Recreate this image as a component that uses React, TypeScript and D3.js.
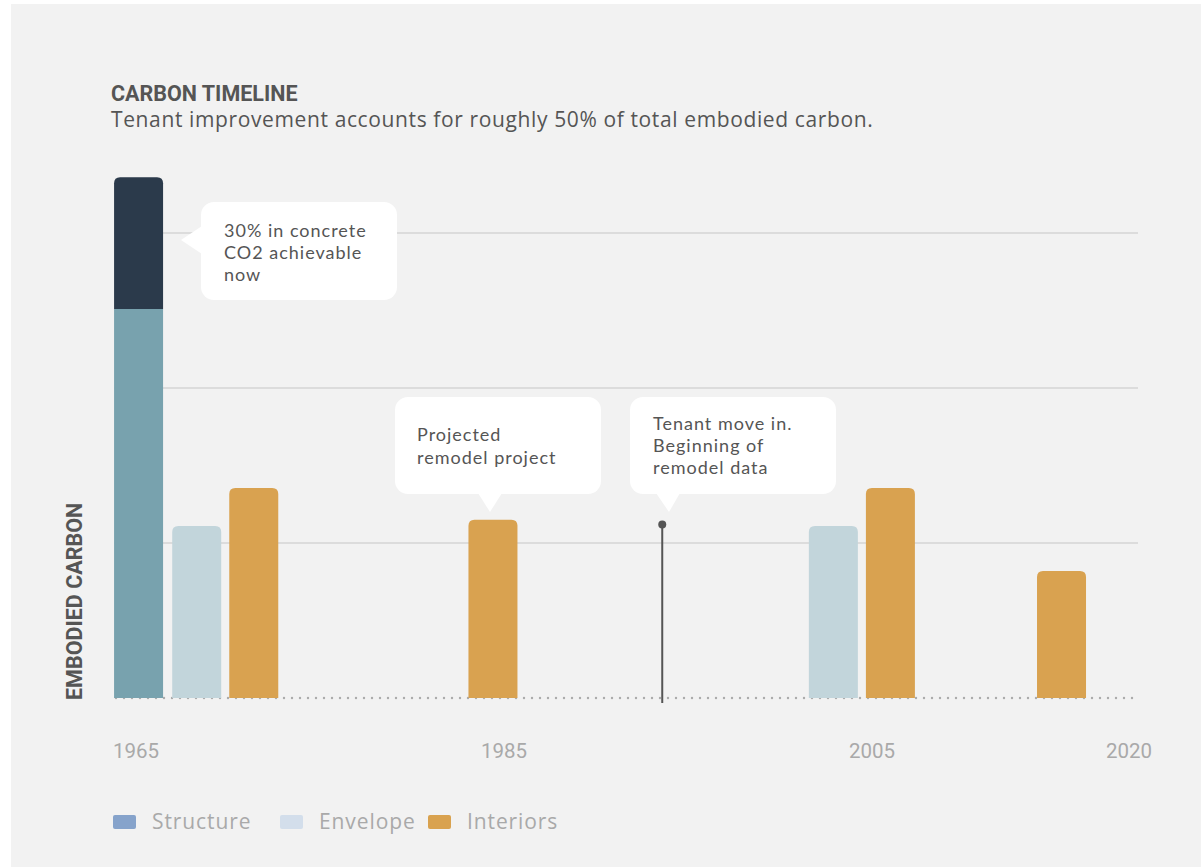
import React from "react";
import * as d3 from "d3";

const tickYears = [1965, 1985, 2005, 2020];
const gridValues = [1, 2, 3];

const legendItems = ["Structure", "Envelope", "Interiors"];
const legendColors = ["#86a3cb", "#d3deeb", "#d9a24f"];

// bars: centre year, series, stacked segments (bottom -> top) in units
const barYears = [1965.14, 1968.3, 1971.4, 1984.4, 2002.9, 2006.0, 2015.3];
const barSeries = ["Structure", "Envelope", "Interiors", "Interiors", "Envelope", "Interiors", "Interiors"];
const barLower = [2.51, 1.11, 1.355, 1.15, 1.11, 1.355, 0.82];
const barUpper = [0.85, 0, 0, 0, 0, 0, 0];

const pinYear = 1993.6;
const pinValue = 1.12;

const W = 1201;
const H = 867;

const x = d3.scaleLinear().domain([1965, 2005]).range([136, 872]);
const y = d3.scaleLinear().domain([0, 1]).range([698, 543]);

const barW = 49;
const seriesFill: Record<string, string> = {
  Structure: "#78a2ae",
  Envelope: "#c2d5db",
  Interiors: "#d9a250",
};
const upperFill = "#2b3a4b";

function topRoundedRect(x0: number, y0: number, w: number, h: number, r: number) {
  const p = d3.path();
  p.moveTo(x0, y0 + h);
  p.lineTo(x0, y0 + r);
  p.quadraticCurveTo(x0, y0, x0 + r, y0);
  p.lineTo(x0 + w - r, y0);
  p.quadraticCurveTo(x0 + w, y0, x0 + w, y0 + r);
  p.lineTo(x0 + w, y0 + h);
  p.closePath();
  return p.toString();
}

const textColor = "#555";
const bodyFont = "'Open Sans', sans-serif";
const calloutFont = "Lato, sans-serif";

function Callout({ bx, by, bw, bh, pointer, lines, tx, ty, lh }: any) {
  let tri = "";
  if (pointer.dir === "left") {
    tri = `M${bx + 1},${pointer.y - 14} L${pointer.tipX},${pointer.y} L${bx + 1},${pointer.y + 14} Z`;
  } else {
    tri = `M${pointer.x - 12},${by + bh - 1} L${pointer.tipX},${pointer.tipY} L${pointer.x + 12},${by + bh - 1} Z`;
  }
  return (
    <g>
      <rect x={bx} y={by} width={bw} height={bh} rx={13} ry={13} fill="#fff" />
      <path d={tri} fill="#fff" />
      {lines.map((l: string, i: number) => (
        <text
          key={i}
          x={tx}
          y={ty + i * lh}
          fontFamily={calloutFont}
          fontSize={18}
          letterSpacing={1}
          fill={textColor}
        >
          {l}
        </text>
      ))}
    </g>
  );
}

export default function App() {
  const plotLeft = 114;
  const plotRight = 1138;
  const base = y(0);
  const dots = d3.range(plotLeft + 2, 1136, 8);

  return (
    <svg
      width={W}
      height={H}
      style={{ position: "absolute", left: 0, top: 0, display: "block" }}
    >
      <rect x={0} y={0} width={W} height={H} fill="#fff" />
      <rect x={11} y={4} width={W - 11} height={H - 4} fill="#f2f2f2" />

      <text x={111} y={101} fontFamily="Roboto, sans-serif" fontWeight={700} fontSize={21.5} fill={textColor}>
        CARBON TIMELINE
      </text>
      <text x={111} y={127} fontFamily={bodyFont} fontSize={21} letterSpacing={0.62} fill={textColor}>
        Tenant improvement accounts for roughly 50% of total embodied carbon.
      </text>

      {/* grid lines */}
      {gridValues.map((g) => (
        <line key={g} x1={plotLeft} x2={plotRight} y1={y(g)} y2={y(g)} stroke="#dcdcdc" strokeWidth={2} />
      ))}

      {/* dotted baseline */}
      {dots.map((d) => (
        <circle key={d} cx={d} cy={base} r={1.2} fill="#ababab" />
      ))}

      {/* bars */}
      {barYears.map((yr, i) => {
        const cx = x(yr);
        const x0 = cx - barW / 2;
        const lowTop = y(barLower[i]);
        const total = barLower[i] + barUpper[i];
        const topY = y(total);
        if (barUpper[i] > 0) {
          return (
            <g key={i}>
              <rect x={x0} y={lowTop} width={barW} height={base - lowTop} fill={seriesFill[barSeries[i]]} />
              <path d={topRoundedRect(x0, topY, barW, lowTop - topY, 6)} fill={upperFill} />
            </g>
          );
        }
        return (
          <path key={i} d={topRoundedRect(x0, topY, barW, base - topY, 6)} fill={seriesFill[barSeries[i]]} />
        );
      })}

      {/* pin */}
      <line x1={x(pinYear)} x2={x(pinYear)} y1={y(pinValue)} y2={base + 5} stroke="#555" strokeWidth={2} />
      <circle cx={x(pinYear)} cy={y(pinValue)} r={4} fill="#555" />

      {/* callouts */}
      <Callout
        bx={201} by={202} bw={196} bh={98}
        pointer={{ dir: "left", y: 240, tipX: 181 }}
        lines={["30% in concrete", "CO2 achievable", "now"]}
        tx={224} ty={237} lh={22}
      />
      <Callout
        bx={395} by={397} bw={206} bh={97}
        pointer={{ dir: "down", x: 490, tipX: 490, tipY: 512 }}
        lines={["Projected", "remodel project"]}
        tx={417} ty={441} lh={22.5}
      />
      <Callout
        bx={630} by={397} bw={206} bh={97}
        pointer={{ dir: "down", x: 668, tipX: 669, tipY: 512 }}
        lines={["Tenant move in.", "Beginning of", "remodel data"]}
        tx={653} ty={430} lh={22}
      />

      {/* y axis title */}
      <text
        transform={`translate(82,${base + 2}) rotate(-90)`}
        fontFamily="Roboto, sans-serif"
        fontWeight={700}
        fontSize={21.5}
        fill={textColor}
      >
        EMBODIED CARBON
      </text>

      {/* x ticks */}
      {tickYears.map((t, i) => {
        const last = i === tickYears.length - 1;
        return (
          <text
            key={t}
            x={last ? x(t) + 4 : x(t)}
            y={758}
            textAnchor={last ? "end" : "middle"}
            fontFamily="Roboto, sans-serif"
            fontSize={20.5}
            fill="#a9a9a9"
          >
            {String(t)}
          </text>
        );
      })}

      {/* legend */}
      {legendItems.map((l, i) => {
        const lx = [113, 280, 428][i];
        return (
          <g key={l}>
            <rect x={lx} y={815} width={23} height={14} rx={2} fill={legendColors[i]} />
            <text x={lx + 39} y={829} fontFamily={bodyFont} fontSize={21} letterSpacing={0.9} fill="#a9a9a9">
              {l}
            </text>
          </g>
        );
      })}
    </svg>
  );
}
